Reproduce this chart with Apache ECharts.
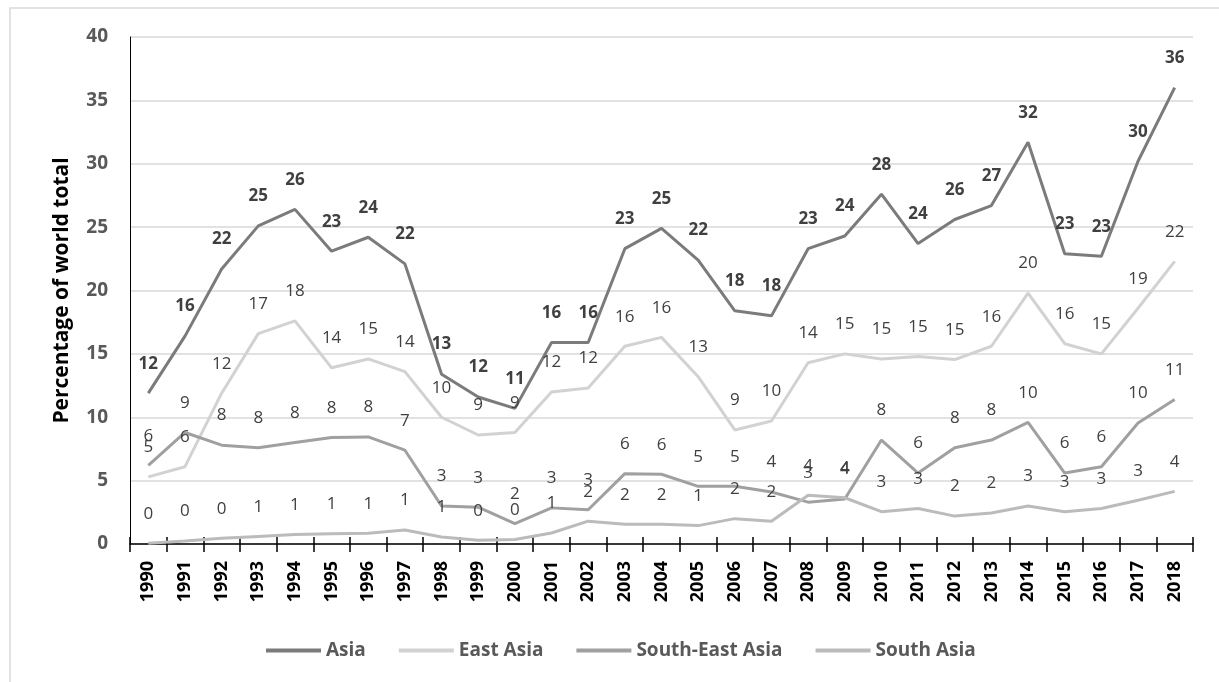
<!DOCTYPE html>
<html>
<head>
<meta charset="utf-8">
<script src="https://cdn.jsdelivr.net/npm/echarts@6/dist/echarts.min.js"></script>
<style>
  html, body { margin: 0; padding: 0; background: #fff; }
  #view { width: 1219px; height: 682px; }
</style>
</head>
<body>
<div id="view"></div>
<script>
var myCharts = echarts.init(document.getElementById("view"));

/* 基础数据 */
var years = ['1990', '1991', '1992', '1993', '1994', '1995', '1996', '1997', '1998', '1999',
    '2000', '2001', '2002', '2003', '2004', '2005', '2006', '2007', '2008', '2009',
    '2010', '2011', '2012', '2013', '2014', '2015', '2016', '2017', '2018'];

var asia = [11.9, 16.4, 21.7, 25.1, 26.4, 23.1, 24.2, 22.1, 13.4, 11.6,
    10.7, 15.9, 15.9, 23.3, 24.9, 22.4, 18.4, 18.0, 23.3, 24.3,
    27.6, 23.7, 25.6, 26.7, 31.7, 22.9, 22.7, 30.2, 36.0];

var eastAsia = [5.3, 6.1, 11.9, 16.6, 17.6, 13.9, 14.6, 13.6, 10.0, 8.6,
    8.8, 12.0, 12.3, 15.6, 16.3, 13.2, 9.0, 9.7, 14.3, 15.0,
    14.6, 14.8, 14.55, 15.6, 19.8, 15.8, 15.0, 18.6, 22.3];

var southEastAsia = [6.2, 8.8, 7.8, 7.6, 8.0, 8.4, 8.45, 7.4, 3.0, 2.9,
    1.6, 2.85, 2.7, 5.55, 5.5, 4.55, 4.55, 4.1, 3.3, 3.55,
    8.2, 5.6, 7.6, 8.2, 9.6, 5.6, 6.1, 9.55, 11.4];

var southAsia = [0.05, 0.24, 0.45, 0.6, 0.75, 0.8, 0.85, 1.1, 0.55, 0.3,
    0.35, 0.87, 1.8, 1.55, 1.55, 1.45, 2.0, 1.8, 3.85, 3.65,
    2.55, 2.8, 2.2, 2.45, 3.0, 2.55, 2.8, 3.45, 4.15];

var yTicks = [0, 5, 10, 15, 20, 25, 30, 35, 40];

var font = '"Open Sans", "Noto Sans", sans-serif';

function makeLine(name, data, color, bold) {
    return {
        name: name,
        type: 'line',
        data: data,
        symbol: 'circle',
        symbolSize: 0,
        showSymbol: true,
        lineStyle: { color: color, width: 3 },
        itemStyle: { color: color },
        label: {
            show: true,
            position: 'top',
            distance: 21,
            fontFamily: font,
            fontSize: 17,
            fontWeight: bold ? 'bold' : 'normal',
            color: '#404040',
            formatter: function (p) { return Math.round(p.value); }
        },
        emphasis: { disabled: true },
        z: 3
    };
}

option = {
    animation: false,
    backgroundColor: '#fff',
    textStyle: { fontFamily: font },
    /* 外框 */
    graphic: [{
        type: 'rect',
        shape: { x: 10, y: 8, width: 1400, height: 900 },
        style: { fill: 'none', stroke: '#d9d9d9', lineWidth: 1.5 },
        silent: true,
        z: -1
    }],
    grid: {
        left: 130, right: 26, top: 37, bottom: 138,
        containLabel: false,
        outerBoundsMode: 'none'
    },
    legend: {
        left: 261,
        top: 636,
        icon: 'rect',
        itemWidth: 55,
        itemHeight: 4,
        itemGap: 33,
        textStyle: { fontFamily: font, fontSize: 19, fontWeight: 'bold', color: '#595959' },
        data: ['Asia', 'East Asia', 'South-East Asia', 'South Asia']
    },
    /* X 轴 */
    xAxis: [{
        type: 'category',
        data: years,
        boundaryGap: true,
        axisLine: { lineStyle: { color: '#000', width: 1.5 } },
        axisTick: { show: true, interval: 0, length: 8, lineStyle: { color: '#000', width: 1.5 } },
        axisLabel: {
            interval: 0, rotate: 90, margin: 17,
            fontFamily: font, fontSize: 18, fontWeight: 'bold', color: '#000'
        },
        splitLine: { show: false }
    }, {
        /* 刻度线穿过轴线 */
        type: 'category',
        data: years,
        position: 'bottom',
        boundaryGap: true,
        axisLine: { show: false },
        axisTick: { show: true, inside: true, interval: 0, length: 7, lineStyle: { color: '#000', width: 1.5 } },
        axisLabel: { show: false },
        splitLine: { show: false }
    }],
    /* Y 轴 */
    yAxis: [{
        type: 'value',
        min: yTicks[0],
        max: yTicks[yTicks.length - 1],
        interval: 5,
        name: 'Percentage of world total',
        nameLocation: 'middle',
        nameGap: 57,
        nameTextStyle: { fontFamily: font, fontSize: 21, fontWeight: 'bold', color: '#000' },
        axisLine: { show: true, lineStyle: { color: '#000', width: 1 } },
        axisTick: { show: false },
        axisLabel: {
            margin: 22, fontFamily: font, fontSize: 19, fontWeight: 'bold', color: '#595959'
        },
        splitLine: { show: true, lineStyle: { color: '#d9d9d9', width: 1.5 } }
    }],
    series: [
        makeLine('Asia', asia, '#7b7b7b', true),
        makeLine('East Asia', eastAsia, '#d2d2d2', false),
        makeLine('South-East Asia', southEastAsia, '#a0a0a0', false),
        makeLine('South Asia', southAsia, '#bbbbbb', false)
    ]
};

myCharts.setOption(option);
</script>
</body>
</html>
